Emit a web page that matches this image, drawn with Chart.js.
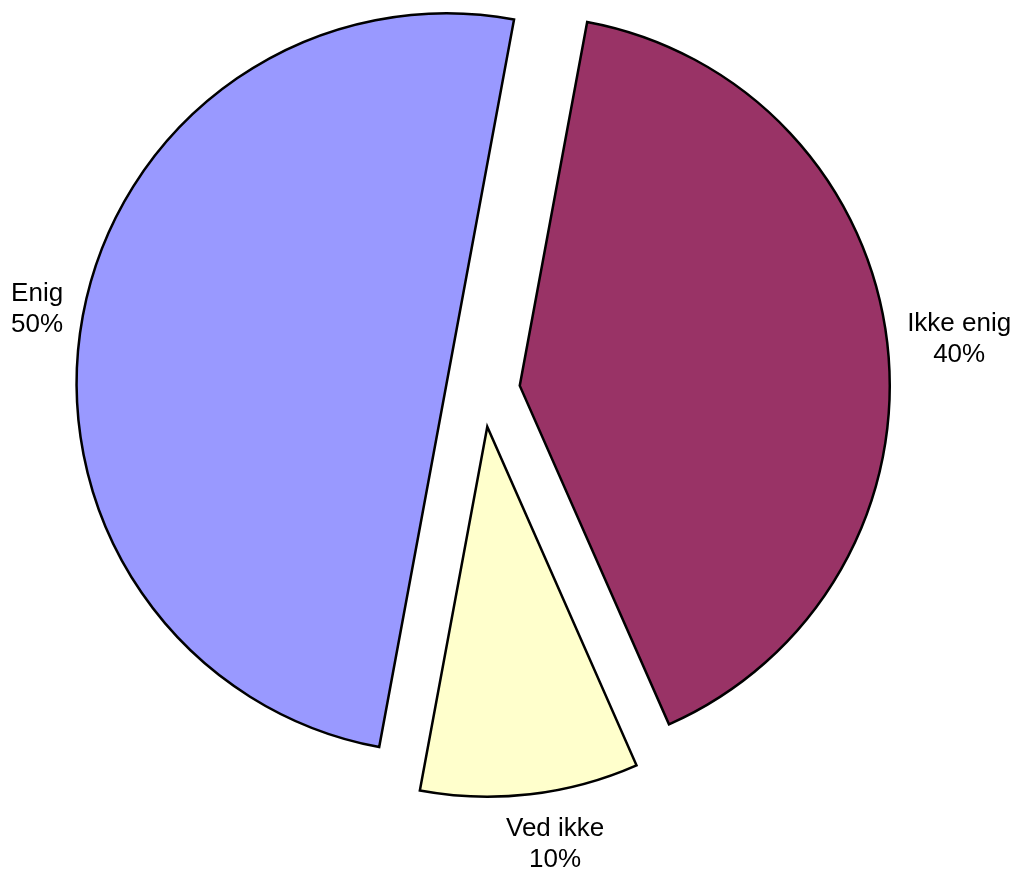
<!DOCTYPE html>
<html>
<head>
<meta charset="utf-8">
<title>Enig / Ikke enig / Ved ikke</title>
<script src="https://cdn.jsdelivr.net/npm/chart.js@4.4.1/dist/chart.umd.min.js"></script>
<style>
  html, body { margin: 0; padding: 0; background: #fff; }
  #wrap { width: 1014px; height: 875px; }
</style>
</head>
<body>
<div id="wrap"><canvas id="pieChart"></canvas></div>
<script>
// Data (clockwise from the first slice), answer counts
const labels = ['Ikke enig', 'Ved ikke', 'Enig'];
const values = [17, 4, 21];
const sliceColors = ['#993366', '#FFFFCC', '#9999FF'];

const EXPLODE = 148;   // Chart.js moves a slice by offset / 4
const RADIUS = 370;
const LINE_H = 31;

// Chart.js grows exploded slices by a size that depends on their angle
// and trims their ends a little; undo both so the slices stay true wedges
const evenRadius = {
  id: 'evenRadius',
  afterDatasetUpdate(chart, args) {
    args.meta.data.forEach(arc => {
      const fix = 1 - Math.sin(Math.min(Math.PI, arc.circumference));
      const grow = (EXPLODE / 4) * fix;
      arc.outerRadius = RADIUS - grow;
      const trim = grow / Math.PI / RADIUS / 2;
      arc.startAngle -= trim;
      arc.endAngle += trim;
    });
  }
};

// Name + percent outside each slice
const sliceLabels = {
  id: 'sliceLabels',
  afterDatasetsDraw(chart) {
    const { ctx } = chart;
    const meta = chart.getDatasetMeta(0);
    const total = values.reduce((a, b) => a + b, 0);
    ctx.save();
    ctx.font = '26px "Liberation Sans", Arial, sans-serif';
    ctx.fillStyle = '#000';
    ctx.textAlign = 'center';
    ctx.textBaseline = 'middle';
    meta.data.forEach((arc, i) => {
      const mid = (arc.startAngle + arc.endAngle) / 2;
      const dx = Math.cos(mid), dy = Math.sin(mid);
      const dist = EXPLODE / 4 + RADIUS + 20;
      const ax = arc.x + dx * dist, ay = arc.y + dy * dist;
      const lines = [labels[i], Math.round(values[i] / total * 100) + '%'];
      const w = Math.max(...lines.map(l => ctx.measureText(l).width));
      const h = lines.length * LINE_H;
      const cx = ax + w / 2 * Math.max(-1, Math.min(1, dx * 4));
      const cy = ay + h / 2 * dy * Math.sqrt(Math.abs(dy));
      lines.forEach((l, k) => ctx.fillText(l, cx, cy + (k - (lines.length - 1) / 2) * LINE_H));
    });
    ctx.restore();
  }
};

new Chart(document.getElementById('pieChart'), {
  type: 'pie',
  data: {
    labels,
    datasets: [{
      data: values,
      backgroundColor: sliceColors,
      borderColor: '#000',
      borderWidth: 2.5,
      borderJoinStyle: 'miter',
      offset: EXPLODE
    }]
  },
  options: {
    responsive: true,
    maintainAspectRatio: false,
    animation: false,
    events: [],
    rotation: 10.5,
    radius: RADIUS,
    layout: { padding: { left: 0, right: 48, top: 0, bottom: 95 } },
    plugins: {
      legend: { display: false },
      tooltip: { enabled: false }
    }
  },
  plugins: [evenRadius, sliceLabels]
});
</script>
</body>
</html>
